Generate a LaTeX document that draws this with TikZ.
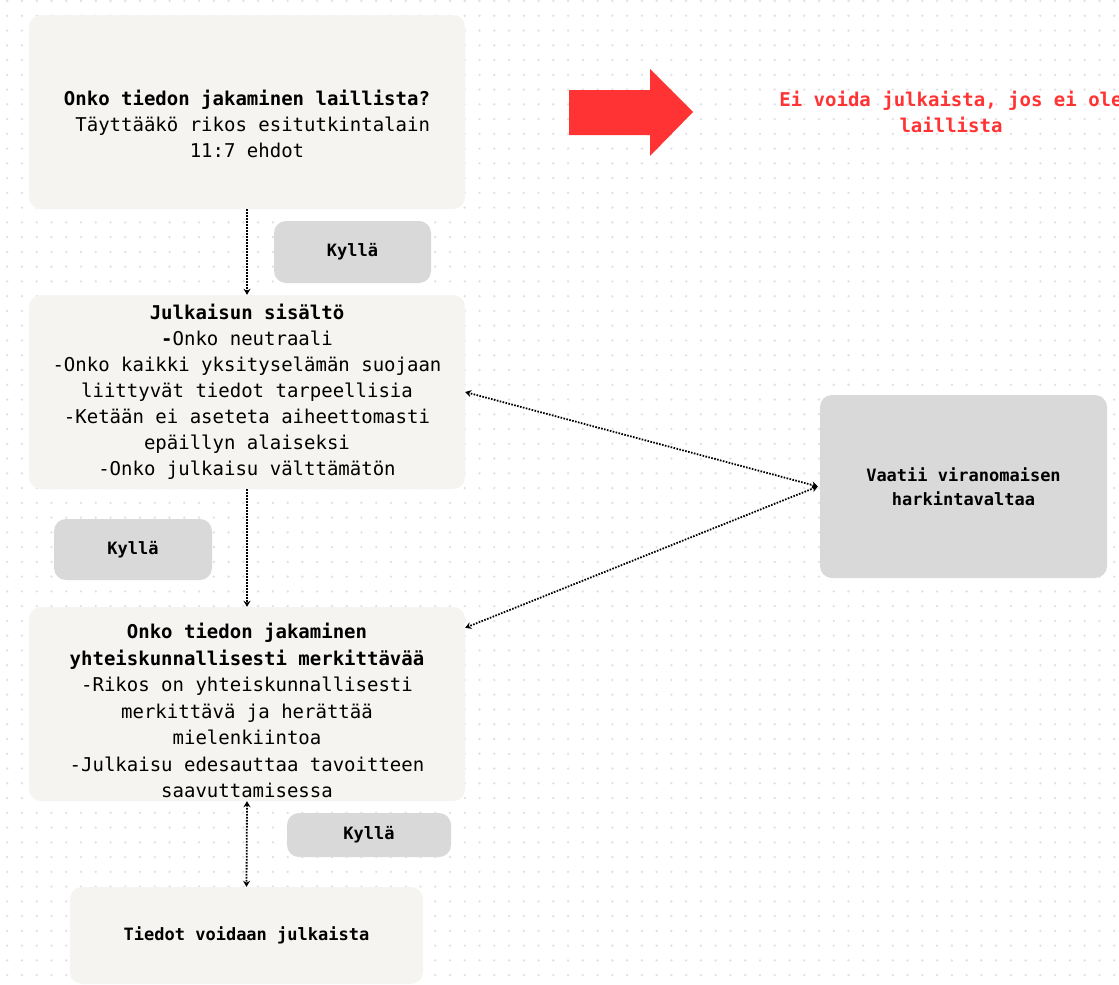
\documentclass[tikz,border=0pt]{standalone}
\usepackage{fontspec}
\setmainfont{DejaVu Sans Mono}
\usetikzlibrary{calc,arrows.meta}
\definecolor{boxfill}{HTML}{F5F4F0}
\definecolor{answerfill}{HTML}{D9D9D9}
\definecolor{alert}{HTML}{FF3333}
\definecolor{dotgrid}{HTML}{E0E0E6}

\begin{document}
\begin{tikzpicture}[x=1pt, y=-1pt,
  box/.style={align=center, fill=boxfill, rounded corners=12pt, inner sep=0pt, minimum width=436pt, minimum height=194pt, font=\fontsize{19}{26}\selectfont},
  answer/.style={align=center, fill=answerfill, rounded corners=12pt, inner sep=0pt, font=\bfseries\fontsize{17}{24}\selectfont},
  link/.style={line width=1.8pt, dash pattern=on 1.6pt off 1.4pt, -{Stealth[length=6pt,width=7pt]}},
  twoway/.style={line width=1.8pt, dash pattern=on 1.6pt off 1.4pt, {Stealth[length=6pt,width=7pt]}-{Stealth[length=6pt,width=7pt]}}]

\useasboundingbox (0,0) rectangle (1119,985);
\clip (0,0) rectangle (1119,985);
\fill[white] (0,0) rectangle (1119,985);

% dotted background
\foreach \i in {0,...,75}
  \foreach \j in {0,...,66}
    \fill[dotgrid] (7.2+\i*14.76, 1+\j*14.76) circle[radius=1.3pt];

\node[box] (1) at (247, 112) {\mbox{}\\[14pt] \textbf{Onko tiedon jakaminen laillista?}\\ \phantom{T}Täyttääkö rikos esitutkintalain\\ 11:7 ehdot};
\node[answer, minimum width=157pt, minimum height=62pt] (k1) at (352.5, 252) {Kyllä};
\node[box] (2) at (247, 392) {\textbf{Julkaisun sisältö}\\ \textbf{-}Onko neutraali\\ -Onko kaikki yksityselämän suojaan\\ liittyvät tiedot tarpeellisia\\ -Ketään ei aseteta aiheettomasti\\ epäillyn alaiseksi\\ -Onko julkaisu välttämätön};
\node[answer, minimum width=158pt, minimum height=61pt] (k2) at (133, 549.5) {Kyllä};
\node[box, font=\fontsize{19}{26.5}\selectfont] (3) at (247, 704) {\mbox{}\\[2pt] \textbf{Onko tiedon jakaminen}\\ \textbf{yhteiskunnallisesti merkittävää}\\ -Rikos on yhteiskunnallisesti\\ merkittävä ja herättää\\ mielenkiintoa\\ -Julkaisu edesauttaa tavoitteen\\ saavuttamisessa};
\node[answer, minimum width=164pt, minimum height=44pt] (k3) at (369, 835) {Kyllä};
\node[box, minimum width=353pt, minimum height=97pt, font=\bfseries\fontsize{17}{24}\selectfont] (4) at (246.5, 935.5) {Tiedot voidaan julkaista};
\node[answer, minimum width=287pt, minimum height=183pt] (5) at (963.5, 486.5) {Vaatii viranomaisen\\ harkintavaltaa};

% red arrow and the note
\fill[alert] (569,90) -- (650,90) -- (650,69) -- (693,112) -- (650,156) -- (650,135) -- (569,135) -- cycle;
\node[align=center, text=alert, font=\bfseries\fontsize{19}{26}\selectfont] (6) at (951, 112) {Ei voida julkaista, jos ei ole\\ laillista};

\draw[link] (1.south) -- (2.north);
\draw[link] (2.south) -- (3.north);
\draw[twoway] (3.south) -- (4.north);
\draw[twoway] ([xshift=-2pt]5.west) -- (2.east);
\draw[twoway] ([xshift=-2pt]5.west) -- ([yshift=-21pt]3.north east);

\end{tikzpicture}
\end{document}
